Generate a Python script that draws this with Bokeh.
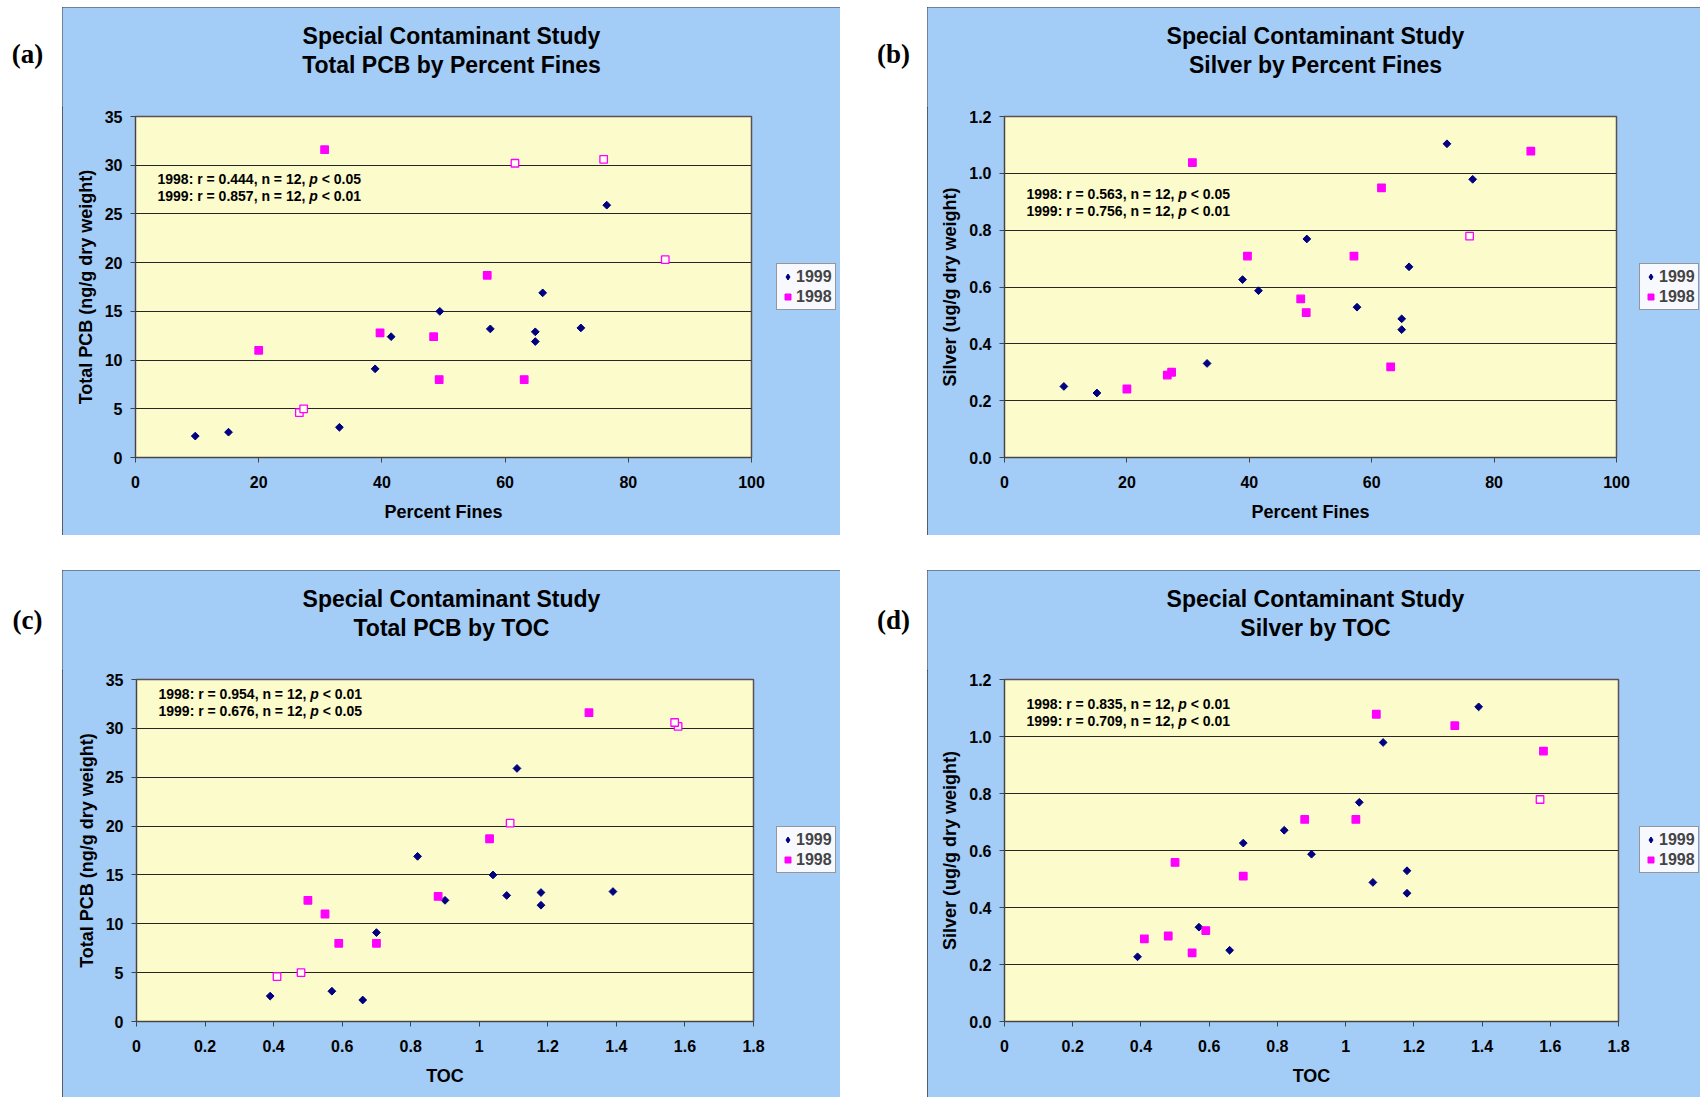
import math

from bokeh.embed import file_html
from bokeh.layouts import column, row
from bokeh.models import (ColumnDataSource, FixedTicker, Label, Legend,
                          LegendItem, Range1d, Spacer)
from bokeh.plotting import figure
from bokeh.resources import INLINE

# ---------------------------------------------------------------------------
# Station data, one entry per station (same order in every list of a year)
# ---------------------------------------------------------------------------
fines_1999 = [9.7, 15.1, 33.1, 38.9, 41.5, 49.4, 57.6, 64.9, 64.9, 66.1, 72.3, 76.5]
toc_1999 = [0.66, 0.39, 0.57, 0.70, 0.90, 1.04, 1.18, 1.08, 1.18, 0.82, 1.39, 1.11]
pcb_1999 = [2.2, 2.6, 3.1, 9.1, 12.4, 15.0, 13.2, 12.9, 11.9, 16.9, 13.3, 25.9]
silver_1999 = [0.250, 0.227, 0.331, 0.626, 0.587, 0.769, 0.529, 0.488, 0.450, 0.671, 1.104, 0.979]

fines_1998 = [20.0, 26.6, 27.3, 30.7, 39.7, 48.4, 49.3, 57.1, 61.6, 63.1, 76.0, 86.0]
toc_1998 = [0.55, 0.41, 0.48, 1.32, 0.88, 0.50, 0.70, 1.03, 1.58, 0.59, 1.57, 1.09]
pcb_1998 = [11.0, 4.6, 5.0, 31.6, 12.8, 12.4, 8.0, 18.7, 30.2, 8.0, 30.6, 20.3]
silver_1998 = [0.241, 0.290, 0.300, 1.038, 0.709, 0.558, 0.510, 0.709, 0.949, 0.319, 0.779, 1.078]

# 1998 stations drawn as open squares
pcb_open_1998 = [False, True, True, False, False, False, False, False, True, False, True, True]
silver_open_1998 = [False, False, False, False, False, False, False, False, False, False, True, False]

# Correlation statistics: (year, r, n, p)
stats_pcb_fines = [("1998", "0.444", "12", "< 0.05"), ("1999", "0.857", "12", "< 0.01")]
stats_silver_fines = [("1998", "0.563", "12", "< 0.05"), ("1999", "0.756", "12", "< 0.01")]
stats_pcb_toc = [("1998", "0.954", "12", "< 0.01"), ("1999", "0.676", "12", "< 0.05")]
stats_silver_toc = [("1998", "0.835", "12", "< 0.01"), ("1999", "0.709", "12", "< 0.01")]

# Axis ticks and their labels
fines_ticks = [0, 20, 40, 60, 80, 100]
fines_tick_labels = ["0", "20", "40", "60", "80", "100"]
toc_ticks = [0, 0.2, 0.4, 0.6, 0.8, 1, 1.2, 1.4, 1.6, 1.8]
toc_tick_labels = ["0", "0.2", "0.4", "0.6", "0.8", "1", "1.2", "1.4", "1.6", "1.8"]
pcb_ticks = [0, 5, 10, 15, 20, 25, 30, 35]
pcb_tick_labels = ["0", "5", "10", "15", "20", "25", "30", "35"]
silver_ticks = [0, 0.2, 0.4, 0.6, 0.8, 1.0, 1.2]
silver_tick_labels = ["0.0", "0.2", "0.4", "0.6", "0.8", "1.0", "1.2"]

series_names = ["1999", "1998"]
panel_tags = ["(a)", "(b)", "(c)", "(d)"]

# ---------------------------------------------------------------------------
# Styling
# ---------------------------------------------------------------------------
SANS = "Liberation Sans"
SERIF = "Liberation Serif"
PANEL_BLUE = "#a3ccf6"
PLOT_YELLOW = "#fbfbcb"
NAVY = "#000080"
MAGENTA = "#ff00ff"
OPEN_FILL = "#fffff4"
PAGE_H = 1097
HEADER_H = 100      # height of the heading strip above each chart
PLOT_TOP = 9        # room above the frame for the top tick label
PLOT_RIGHT = 16     # room right of the frame for the last tick label
KEY_W, KEY_H = 60, 48

# Liberation Sans Bold advance widths (1/1000 em), used to place the italic "p"
BOLD_ADVANCE = {" ": 278, ",": 278, ".": 278, ":": 333, "<": 584, "=": 584,
                "n": 611, "p": 611, "r": 389}
for _d in "0123456789":
    BOLD_ADVANCE[_d] = 556


def text_width(s, size):
    return sum(BOLD_ADVANCE[c] for c in s) * size / 1000.0


def blank_figure(width, height, fill):
    p = figure(width=width, height=height, x_range=Range1d(0, 1), y_range=Range1d(0, 1),
               output_backend="svg", toolbar_location=None, min_border=0,
               x_axis_type=None, y_axis_type=None)
    p.outline_line_color = None
    p.border_fill_color = fill
    p.background_fill_color = fill
    return p


def blue_spacer(width, height):
    return Spacer(width=width, height=height, styles={"background-color": PANEL_BLUE})


def build_panel(x99, y99, x98, y98, open98, xr, x_ticks, x_labels, yr, y_ticks, y_labels,
                x_title, y_title, title_lines, stats, box_w, box_h,
                left, frame_w, frame_h, title_x, stats_top, legend_gap):
    plot_h = box_h - HEADER_H
    bottom = plot_h - PLOT_TOP - frame_h
    plot_w = left + frame_w + PLOT_RIGHT

    # --- heading strip -----------------------------------------------------
    head = blank_figure(box_w, HEADER_H, PANEL_BLUE)
    for text, y_from_top in zip(title_lines, (28.5, 57)):
        head.add_layout(Label(x=title_x, y=HEADER_H - y_from_top, x_units="screen",
                              y_units="screen", text=text, text_align="center",
                              text_baseline="middle", text_font=SANS,
                              text_font_style="bold", text_font_size="23px",
                              text_color="#000000"))

    # --- scatter chart -----------------------------------------------------
    p = figure(width=plot_w, height=plot_h,
               x_range=Range1d(*xr), y_range=Range1d(*yr),
               output_backend="svg", toolbar_location=None,
               min_border_left=left, min_border_right=PLOT_RIGHT,
               min_border_top=PLOT_TOP, min_border_bottom=bottom)
    p.border_fill_color = PANEL_BLUE
    p.background_fill_color = PLOT_YELLOW
    p.outline_line_color = "#5b5057"
    p.outline_line_width = 1.5

    p.xgrid.visible = False
    p.ygrid.grid_line_color = "#262626"
    p.ygrid.grid_line_width = 1

    for ax, ticks, labels in ((p.xaxis[0], x_ticks, x_labels), (p.yaxis[0], y_ticks, y_labels)):
        ax.ticker = FixedTicker(ticks=ticks)
        ax.major_label_overrides = dict(zip(ticks, labels))
        ax.minor_tick_line_color = None
        ax.major_tick_in = 0
        ax.major_tick_out = 5
        ax.major_tick_line_color = "#444444"
        ax.axis_line_color = "#444444"
        ax.major_label_text_font = SANS
        ax.major_label_text_font_style = "bold"
        ax.major_label_text_font_size = "16px"
        ax.major_label_text_color = "#000000"
        ax.axis_label_text_font = SANS
        ax.axis_label_text_font_style = "bold"
        ax.axis_label_text_font_size = "18px"
        ax.axis_label_text_color = "#000000"
    p.xaxis.major_label_standoff = 13
    p.xaxis.axis_label_standoff = 11
    p.yaxis.major_label_standoff = 8
    p.yaxis.axis_label_standoff = 6
    p.xaxis.axis_label = x_title
    p.yaxis.axis_label = y_title

    src99 = ColumnDataSource(dict(x=x99, y=y99))
    p.scatter("x", "y", source=src99, marker="square", angle=math.pi / 4, size=5.5,
              fill_color=NAVY, line_color=NAVY, line_width=1)
    src98 = ColumnDataSource(dict(x=x98, y=y98,
                                  fill=[OPEN_FILL if o else MAGENTA for o in open98]))
    p.scatter("x", "y", source=src98, marker="square", size=7.5,
              fill_color="fill", line_color=MAGENTA, line_width=1.3)

    # correlation statistics, with an italic p
    size = 14
    for i, (year, r, n, pv) in enumerate(stats):
        sy = frame_h - stats_top - i * 17.5
        prefix = f"{year}: r = {r}, n = {n},"
        x0 = 22
        x1 = x0 + text_width(prefix + " ", size)
        x2 = x1 + text_width("p ", size)
        for txt, sx, style in ((prefix, x0, "bold"), ("p", x1, "bold italic"), (pv, x2, "bold")):
            p.add_layout(Label(x=sx, y=sy, x_units="screen", y_units="screen", text=txt,
                               text_align="left", text_baseline="middle",
                               text_font=SANS, text_font_style=style,
                               text_font_size=f"{size}px", text_color="#000000"))

    # --- series key, right of the chart, centred on the frame ----------------
    side_w = box_w - plot_w
    key = blank_figure(KEY_W, KEY_H, PANEL_BLUE)
    nan = float("nan")
    k99 = key.scatter(x=[nan], y=[nan], marker="diamond", size=9,
                      fill_color=NAVY, line_color=NAVY, line_width=1)
    k98 = key.scatter(x=[nan], y=[nan], marker="square", size=7,
                      fill_color=MAGENTA, line_color=MAGENTA, line_width=1)
    legend = Legend(items=[LegendItem(label=series_names[0], renderers=[k99]),
                           LegendItem(label=series_names[1], renderers=[k98])],
                    location="top_left", margin=0, padding=3, spacing=1,
                    glyph_width=15, glyph_height=19, label_height=19, label_standoff=1,
                    label_text_font=SANS, label_text_font_style="bold",
                    label_text_font_size="16px",
                    background_fill_color="#f7f9ff", background_fill_alpha=1,
                    border_line_color="#333333", border_line_width=1)
    key.add_layout(legend, "center")

    gap_x = legend_gap - PLOT_RIGHT
    top_gap = int(round(PLOT_TOP + (frame_h - 47) / 2))
    side = column(blue_spacer(side_w, top_gap),
                  row(blue_spacer(gap_x, KEY_H), key, blue_spacer(side_w - gap_x - KEY_W, KEY_H)),
                  blue_spacer(side_w, plot_h - top_gap - KEY_H))

    box = column(head, row(p, side), width=box_w, height=box_h)
    box.styles = {"outline": "1px solid #3a3a3a", "outline-offset": "-1px",
                  "background-color": PANEL_BLUE}
    return box


def tag_strip(width, tags):
    p = blank_figure(width, PAGE_H, "#ffffff")
    for text, x, y_top in tags:
        p.add_layout(Label(x=x, y=PAGE_H - y_top, x_units="screen", y_units="screen",
                           text=text, text_align="center", text_baseline="middle",
                           text_font=SERIF, text_font_style="bold",
                           text_font_size="27px", text_color="#000000"))
    return p


box_a = build_panel(fines_1999, pcb_1999, fines_1998, pcb_1998, pcb_open_1998,
                    (0, 100), fines_ticks, fines_tick_labels, (0, 35), pcb_ticks, pcb_tick_labels,
                    "Percent Fines", "Total PCB (ng/g dry weight)",
                    ["Special Contaminant Study", "Total PCB by Percent Fines"], stats_pcb_fines,
                    box_w=778, box_h=528, left=73, frame_w=616, frame_h=341,
                    title_x=389, stats_top=62, legend_gap=25)
box_b = build_panel(fines_1999, silver_1999, fines_1998, silver_1998, silver_open_1998,
                    (0, 100), fines_ticks, fines_tick_labels, (0, 1.2), silver_ticks, silver_tick_labels,
                    "Percent Fines", "Silver (ug/g dry weight)",
                    ["Special Contaminant Study", "Silver by Percent Fines"], stats_silver_fines,
                    box_w=773, box_h=528, left=77, frame_w=612, frame_h=341,
                    title_x=388, stats_top=77, legend_gap=23)
box_c = build_panel(toc_1999, pcb_1999, toc_1998, pcb_1998, pcb_open_1998,
                    (0, 1.8), toc_ticks, toc_tick_labels, (0, 35), pcb_ticks, pcb_tick_labels,
                    "TOC", "Total PCB (ng/g dry weight)",
                    ["Special Contaminant Study", "Total PCB by TOC"], stats_pcb_toc,
                    box_w=778, box_h=527, left=74, frame_w=617, frame_h=342,
                    title_x=389, stats_top=14, legend_gap=23)
box_d = build_panel(toc_1999, silver_1999, toc_1998, silver_1998, silver_open_1998,
                    (0, 1.8), toc_ticks, toc_tick_labels, (0, 1.2), silver_ticks, silver_tick_labels,
                    "TOC", "Silver (ug/g dry weight)",
                    ["Special Contaminant Study", "Silver by TOC"], stats_silver_toc,
                    box_w=773, box_h=527, left=77, frame_w=614, frame_h=342,
                    title_x=388, stats_top=24, legend_gap=21)

left_tags = tag_strip(62, [(panel_tags[0], 27, 53), (panel_tags[2], 27, 619)])
mid_tags = tag_strip(87, [(panel_tags[1], 53, 53), (panel_tags[3], 53, 619)])

col_left = column(Spacer(width=778, height=7), box_a, Spacer(width=778, height=35), box_c)
col_right = column(Spacer(width=773, height=7), box_b, Spacer(width=773, height=35), box_d)
page = row(left_tags, col_left, mid_tags, col_right)

with open("out.html", "w") as f:
    f.write(file_html(page, INLINE, title="Special Contaminant Study"))
